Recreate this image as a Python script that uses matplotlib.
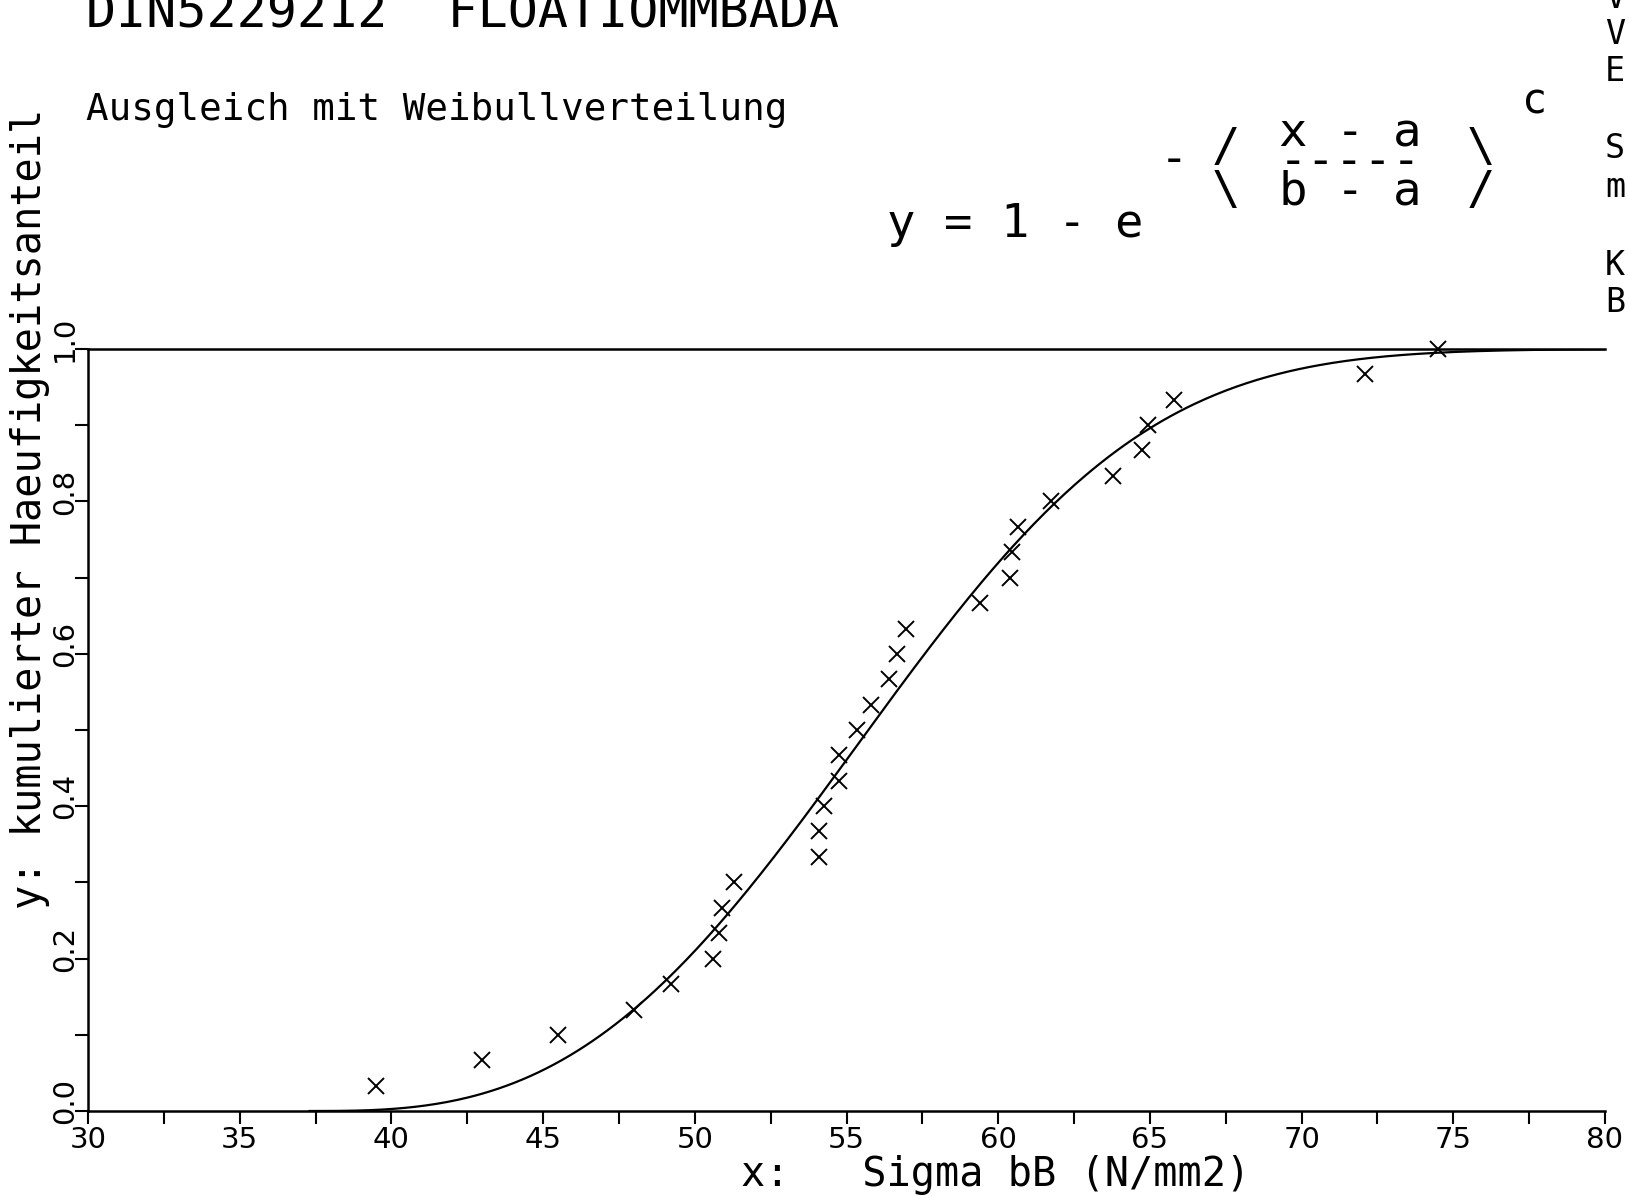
import numpy as np
import matplotlib.pyplot as plt
from matplotlib.ticker import MultipleLocator
from matplotlib.transforms import ScaledTranslation

plt.rcParams.update({'font.family': 'DejaVu Sans Mono', 'figure.dpi': 100})

# Biegebruchspannung der Proben (N/mm2) und kumulierter Haeufigkeitsanteil
sigma_bB = [39.5, 43.0, 45.5, 48.0, 49.2, 50.6, 50.8, 50.9, 51.3, 54.1,
            54.1, 54.25, 54.75, 54.75, 55.35, 55.8, 56.4, 56.65, 56.95, 59.4,
            60.4, 60.45, 60.65, 61.75, 63.8, 64.75, 64.95, 65.8, 72.1, 74.5]
haeufigkeit = [0.033, 0.067, 0.100, 0.133, 0.167, 0.200, 0.233, 0.267, 0.300, 0.333,
               0.367, 0.400, 0.433, 0.467, 0.500, 0.533, 0.567, 0.600, 0.633, 0.667,
               0.700, 0.733, 0.767, 0.800, 0.833, 0.867, 0.900, 0.933, 0.967, 1.000]

# Parameter der Weibullverteilung y = 1 - exp(-((x-a)/(b-a))^c)
a_w = 37.3
b_w = 58.2
c_w = 2.9

x_ticks = [30, 35, 40, 45, 50, 55, 60, 65, 70, 75, 80]
x_ticklabels = ['30', '35', '40', '45', '50', '55', '60', '65', '70', '75', '80']
y_ticks = [0.0, 0.2, 0.4, 0.6, 0.8, 1.0]
y_ticklabels = ['0.0', '0.2', '0.4', '0.6', '0.8', '1.0']

W, H = 1629, 1197
fig = plt.figure(figsize=(W / 100, H / 100), dpi=100)
ax = fig.add_axes([88 / W, 86 / H, 1517 / W, 762 / H])


def px(x, y):
    # Pixelposition (von oben links) -> Figurkoordinaten
    return x / W, 1 - y / H


# Ausgleichskurve und Messpunkte
xs = np.linspace(a_w, 80, 500)
ax.plot(xs, 1 - np.exp(-((xs - a_w) / (b_w - a_w)) ** c_w), color='k', lw=1.6)
ax.plot(sigma_bB, haeufigkeit, 'x', color='k', ms=12, mew=1.4, clip_on=False)

ax.set_xlim(30, 80)
ax.set_ylim(0, 1)
ax.spines['right'].set_visible(False)
for s in ['left', 'bottom', 'top']:
    ax.spines[s].set_linewidth(1.8)

ax.set_xticks(x_ticks, x_ticklabels, family='DejaVu Sans')
ax.xaxis.set_minor_locator(MultipleLocator(2.5))
ax.set_yticks(y_ticks)
ax.yaxis.set_minor_locator(MultipleLocator(0.1))
ax.tick_params(which='both', direction='out', length=9.5, width=1.5, top=False, right=False)
ax.tick_params(axis='x', labelsize=21, pad=1.5)
ax.tick_params(axis='y', labelleft=False)

# y-Beschriftung gedreht, etwas oberhalb der Striche
ylab_trans = ax.get_yaxis_transform() + ScaledTranslation(-0.15, 0.10, fig.dpi_scale_trans)
for v, lab in zip(y_ticks, y_ticklabels):
    ax.text(0, v, lab, transform=ylab_trans, rotation=90, rotation_mode='anchor',
            ha='center', va='baseline', fontsize=21, family='DejaVu Sans')

# Achsenbeschriftung
fig.text(*px(41, 909), 'y: kumulierter Haeufigkeitsanteil', rotation=90,
         rotation_mode='anchor', ha='left', va='baseline', fontsize=29)
fig.text(*px(741, 1186), 'x:   Sigma bB (N/mm2)', ha='left', va='baseline', fontsize=29)

# Kopfzeilen
fig.text(*px(86, 28), 'DIN5229212  FLOATIOMMBADA', ha='left', va='baseline', fontsize=36)
fig.text(*px(86, 120), 'Ausgleich mit Weibullverteilung', ha='left', va='baseline', fontsize=27)

# Formel
fig.text(*px(1015, 237), 'y = 1 - e', ha='center', va='baseline', fontsize=34)
fig.text(*px(1174, 161), '-', ha='center', va='center', fontsize=34)
fig.text(*px(1226, 170), '/\n\\', ha='center', va='center', fontsize=34, linespacing=0.93)
fig.text(*px(1350, 163), 'x - a\n-----\nb - a', ha='center', va='center',
         fontsize=34, linespacing=0.54)
fig.text(*px(1481, 170), '\\\n/', ha='center', va='center', fontsize=34, linespacing=0.93)
fig.text(*px(1534, 102), 'c', ha='center', va='center', fontsize=30)

# Zeilenanfaenge am rechten Rand
for ch, yb in zip(['V', 'V', 'E', 'S', 'm', 'K', 'B'], [8, 44, 81, 158, 197, 275, 312]):
    fig.text(*px(1605, yb), ch, ha='left', va='baseline', fontsize=24)

fig.savefig('out.png', dpi=100)
